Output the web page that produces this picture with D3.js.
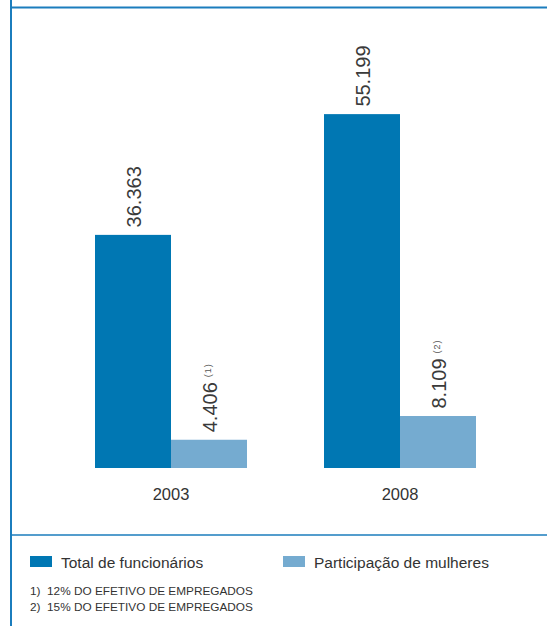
<!DOCTYPE html>
<html>
<head>
<meta charset="utf-8">
<script src="https://cdn.jsdelivr.net/npm/d3@7"></script>
<style>
  html, body { margin: 0; padding: 0; background: #fff; }
  svg { display: block; }
  text { font-family: "Liberation Sans", Arial, sans-serif; fill: #333; }
</style>
</head>
<body>
<svg id="chart" width="547" height="626"></svg>
<script>
const years = ["2003", "2008"];
const totalFuncionarios = [36363, 55199];
const participacaoMulheres = [4406, 8109];
const totalLabels = ["36.363", "55.199"];
const mulheresLabels = ["4.406", "8.109"];
const mulheresNotes = ["(1)", "(2)"];
const seriesNames = ["Total de funcionários", "Participação de mulheres"];
const footnotes = ["1)  12% DO EFETIVO DE EMPREGADOS", "2)  15% DO EFETIVO DE EMPREGADOS"];

const colors = ["#0077b3", "#75abd0"];
const lineColor = "#1b7dbd";

const svg = d3.select("#chart");

// frame lines
svg.append("line").attr("x1", 11).attr("x2", 11).attr("y1", 0).attr("y2", 626)
  .attr("stroke", lineColor).attr("stroke-width", 2);
svg.append("line").attr("x1", 11).attr("x2", 547).attr("y1", 7.5).attr("y2", 7.5)
  .attr("stroke", lineColor).attr("stroke-width", 2);
svg.append("line").attr("x1", 11).attr("x2", 547).attr("y1", 535).attr("y2", 535)
  .attr("stroke", lineColor).attr("stroke-width", 1.5);

const y = d3.scaleLinear().domain([0, 73000]).range([468, 0]);
const groupW = 152;
const xPos = d3.scalePoint().domain(years).range([95, 324]);
const xs = d3.scaleBand().domain([0, 1]).range([0, groupW]);

const data = years.map((yr, i) => ({
  year: yr,
  vals: [totalFuncionarios[i], participacaoMulheres[i]],
  labels: [totalLabels[i], mulheresLabels[i]],
  note: mulheresNotes[i]
}));

const g = svg.selectAll("g.grp").data(data).join("g")
  .attr("class", "grp")
  .attr("transform", d => `translate(${xPos(d.year)},0)`);

g.selectAll("rect").data(d => d.vals.map((v, k) => ({v, k}))).join("rect")
  .attr("x", d => xs(d.k))
  .attr("width", xs.bandwidth())
  .attr("y", d => y(d.v))
  .attr("height", d => y(0) - y(d.v))
  .attr("fill", d => colors[d.k]);

// value labels rotated
g.each(function(d) {
  const gg = d3.select(this);
  d.vals.forEach((v, k) => {
    const cx = xs(k) + xs.bandwidth() / 2;
    const t = gg.append("text")
      .attr("transform", `translate(${cx + 7.5},${y(v) - 7.5}) rotate(-90)`)
      .attr("text-anchor", "start")
      .style("font-size", "20px")
      .style("fill", "#3a3a3a")
      .text(d.labels[k]);
    if (k === 1) {
      t.append("tspan")
        .attr("dx", 5)
        .attr("dy", -6)
        .style("font-size", "9px")
        .style("letter-spacing", "1px")
        .style("fill", "#555")
        .text(d.note);
    }
  });
});

// x axis labels
svg.selectAll("text.year").data(years).join("text")
  .attr("class", "year")
  .attr("x", d => xPos(d) + groupW / 2)
  .attr("y", 500)
  .attr("text-anchor", "middle")
  .style("font-size", "16.5px")
  .text(d => d);

// legend
const legX = [30, 283];
const leg = svg.selectAll("g.leg").data(seriesNames).join("g")
  .attr("class", "leg")
  .attr("transform", (d, i) => `translate(${legX[i]},556)`);
leg.append("rect").attr("width", 22).attr("height", 11).attr("fill", (d, i) => colors[i]);
leg.append("text").attr("x", 31).attr("y", 11.5).style("font-size", "15.5px").text(d => d);

// footnotes
svg.selectAll("text.fn").data(footnotes).join("text")
  .attr("class", "fn")
  .attr("x", 30)
  .attr("y", (d, i) => 595 + i * 15.5)
  .style("font-size", "11.8px")
  .style("white-space", "pre")
  .attr("xml:space", "preserve")
  .text(d => d);
</script>
</body>
</html>
